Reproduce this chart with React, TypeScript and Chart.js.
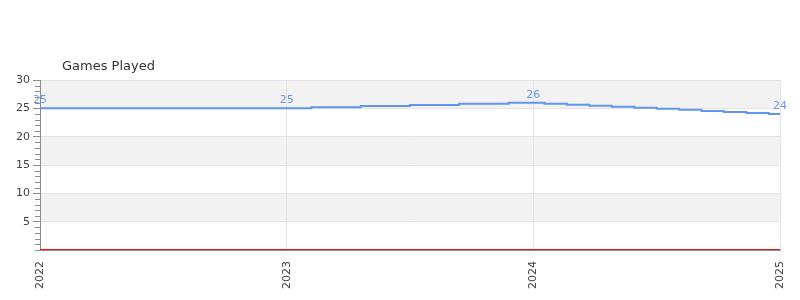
import React, { useEffect, useRef } from "react";
import { Chart, registerables } from "chart.js";

Chart.register(...registerables);

const chartTitle = "Games Played";
const xYears = [
  2022, 2023, 2023.2, 2023.4, 2023.6, 2023.8, 2024,
  2024.091, 2024.182, 2024.273, 2024.364, 2024.455, 2024.545,
  2024.636, 2024.727, 2024.818, 2024.909, 2025,
];
const gamesPlayed = [
  25, 25, 25.2, 25.4, 25.6, 25.8, 26,
  25.82, 25.64, 25.45, 25.27, 25.09, 24.91,
  24.73, 24.55, 24.36, 24.18, 24,
];
const labelYears = [2022, 2023, 2024, 2025];
const yMin = 0;
const yMax = 30;
const yMajorStep = 5;
const yMinorStep = 1;

const FONT = "'DejaVu Sans', sans-serif";
const LINE_COLOR = "#6495ed";
const LABEL_COLOR = "#6f98e8";
const AXIS_COLOR = "#8c8c8c";
const GRID_COLOR = "#e4e4e4";
const BAND_COLOR = "#f2f2f2";
const TEXT_COLOR = "#444444";

const bandsPlugin = {
  id: "bands",
  beforeDraw(chart: any) {
    const { ctx, chartArea, scales } = chart;
    const y = scales.y;
    ctx.save();
    ctx.fillStyle = BAND_COLOR;
    for (let v = yMax; v > yMin; v -= yMajorStep * 2) {
      const top = y.getPixelForValue(v);
      const bottom = y.getPixelForValue(v - yMajorStep);
      ctx.fillRect(chartArea.left, top, chartArea.right - chartArea.left, bottom - top);
    }
    ctx.restore();
  },
};

const extrasPlugin = {
  id: "extras",
  afterDraw(chart: any) {
    const { ctx, chartArea, scales } = chart;
    const y = scales.y;
    ctx.save();
    // minor ticks
    ctx.strokeStyle = AXIS_COLOR;
    ctx.lineWidth = 1;
    for (let v = yMin; v <= yMax; v += yMinorStep) {
      if (v % yMajorStep === 0 && v !== yMin) continue;
      const py = Math.round(y.getPixelForValue(v)) + 0.5;
      ctx.beginPath();
      ctx.moveTo(chartArea.left - 5, py);
      ctx.lineTo(chartArea.left, py);
      ctx.stroke();
    }
    // red zero line
    const y0 = Math.round(y.getPixelForValue(0));
    ctx.fillStyle = "#f01414";
    ctx.fillRect(chartArea.left, y0 - 1, chartArea.right - chartArea.left, 1);
    // title
    ctx.fillStyle = "#333333";
    ctx.font = `13px ${FONT}`;
    ctx.textAlign = "left";
    ctx.textBaseline = "alphabetic";
    ctx.fillText(chartTitle, chartArea.left + 22, chartArea.top - 10);
    // data labels
    const meta = chart.getDatasetMeta(0);
    ctx.fillStyle = LABEL_COLOR;
    ctx.font = `11px ${FONT}`;
    ctx.textAlign = "center";
    meta.data.forEach((el: any, i: number) => {
      if (!labelYears.includes(xYears[i])) return;
      ctx.fillText(String(Math.round(gamesPlayed[i])), el.x, el.y - 5);
    });
    ctx.restore();
  },
};

export default function App() {
  const canvasRef = useRef<HTMLCanvasElement | null>(null);

  useEffect(() => {
    if (!canvasRef.current) return;
    Chart.defaults.font.family = FONT;
    const chart = new Chart(canvasRef.current, {
      type: "line",
      data: {
        datasets: [
          {
            label: chartTitle,
            data: xYears.map((x, i) => ({ x, y: gamesPlayed[i] })),
            borderColor: LINE_COLOR,
            backgroundColor: LINE_COLOR,
            borderWidth: 2,
            pointRadius: 0,
            stepped: "middle",
            fill: false,
          },
        ],
      },
      options: {
        responsive: false,
        animation: false,
        layout: { padding: { top: 80, right: 20, left: 0, bottom: 0 } },
        plugins: {
          legend: { display: false },
          title: { display: false },
          tooltip: { enabled: false },
        },
        scales: {
          x: {
            type: "linear",
            min: 2022,
            max: 2025,
            afterFit(scale: any) {
              scale.height = 50;
            },
            ticks: {
              stepSize: 1,
              autoSkip: false,
              minRotation: 90,
              maxRotation: 90,
              color: TEXT_COLOR,
              font: { size: 11, family: FONT },
              padding: 3,
              callback: (v: any) => String(v),
            },
            grid: {
              color: (ctx: any) => (ctx.tick && ctx.tick.value === 2022 ? "transparent" : GRID_COLOR),
              tickColor: "transparent",
              tickLength: 8,
            },
            border: { color: AXIS_COLOR },
          },
          y: {
            min: yMin,
            max: yMax,
            afterFit(scale: any) {
              scale.width = 40;
            },
            ticks: {
              stepSize: yMajorStep,
              color: TEXT_COLOR,
              font: { size: 11, family: FONT },
              padding: 3,
              callback: (v: any) => (v === 0 ? "" : String(v)),
            },
            grid: {
              color: GRID_COLOR,
              tickColor: (ctx: any) => (ctx.tick && ctx.tick.value === 0 ? "transparent" : AXIS_COLOR),
              tickLength: 7,
            },
            border: { color: AXIS_COLOR },
          },
        },
      },
      plugins: [bandsPlugin, extrasPlugin],
    } as any);
    return () => chart.destroy();
  }, []);

  return (
    <div style={{ position: "absolute", left: 0, top: 0, width: 800, height: 300 }}>
      <canvas ref={canvasRef} width={800} height={300} />
    </div>
  );
}
